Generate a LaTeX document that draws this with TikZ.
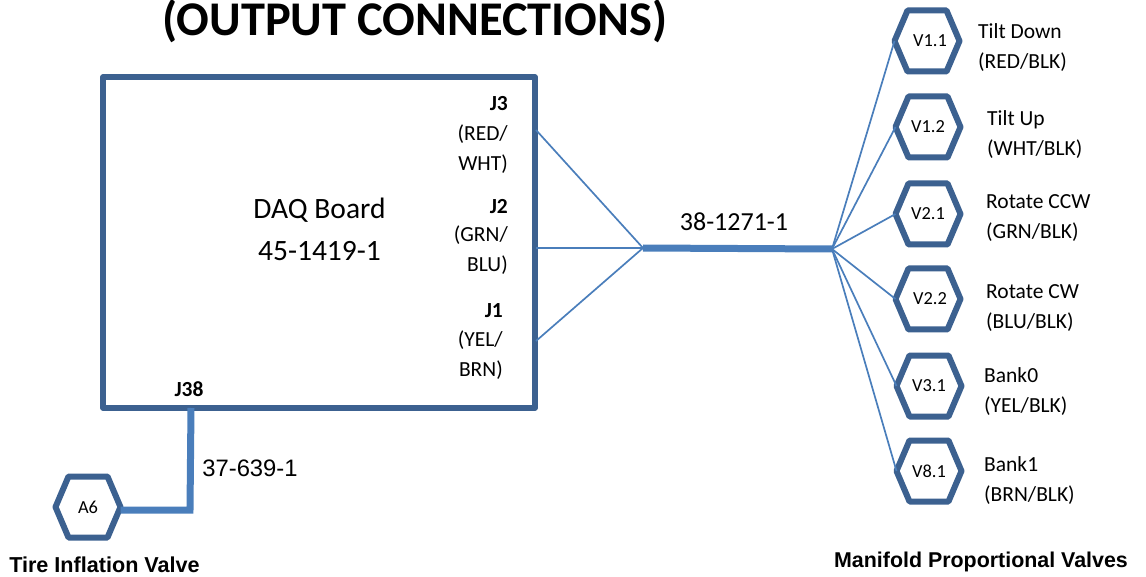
\documentclass[tikz,border=0pt]{standalone}
\usepackage{fontspec}
\setmainfont{Carlito}
\newfontfamily\arialf{Liberation Sans}
\definecolor{dkblue}{HTML}{3C6190}
\definecolor{wireblue}{HTML}{4A7EBB}
\tikzset{
  hexbox/.style={minimum width=65pt,minimum height=61pt,inner sep=0pt,outer sep=0pt,font=\fontsize{18.4}{20}\selectfont},
  hexline/.style={draw=dkblue,line width=6pt,line join=round},
  thinwire/.style={draw=wireblue,line width=1.7pt},
  fatwire/.style={draw=wireblue,line width=7pt},
  lab/.style={inner sep=0pt,align=left,font=\fontsize{21.5}{30}\selectfont},
  conn/.style={inner sep=0pt,align=right,font=\fontsize{21.5}{30}\selectfont},
  jbold/.style={inner sep=0pt,font=\bfseries\fontsize{21.5}{24}\selectfont},
  big/.style={inner sep=0pt,align=center},
}
\newcommand\hexv[4]{%
  \node[hexbox] (#1) at (#2) {\kern#3pt #4};
  \draw[hexline] (#1.west) -- ([xshift=13pt]#1.north west) -- ([xshift=-13pt]#1.north east) -- (#1.east) -- ([xshift=-13pt]#1.south east) -- ([xshift=13pt]#1.south west) -- cycle;
}
\begin{document}
\begin{tikzpicture}[x=1pt,y=-1pt]
\useasboundingbox (0,0) rectangle (1146,577);
\node[big,font=\bfseries\fontsize{48.4}{50}\selectfont] (title) at (415,21) {(OUTPUT CONNECTIONS)};
\node[draw=dkblue,line width=5.5pt,line join=round,minimum width=432pt,minimum height=331pt,inner sep=0pt,outer sep=0pt,anchor=north west] (daq) at (103,77) {};
\node[big,font=\fontsize{29.5}{42}\selectfont] (daqtext) at (319.5,229) {DAQ Board\\45-1419-1};
\node[jbold,anchor=east] (j3) at (508,104) {J3};
\node[conn,anchor=east] (j3w) at (508,149.5) {(RED/\\WHT)};
\node[jbold,anchor=east] (j2) at (508,206.5) {J2};
\node[conn,anchor=east] (j2w) at (508,250.5) {(GRN/\\BLU)};
\node[jbold,anchor=east] (j1) at (503,311) {J1};
\node[conn,anchor=east] (j1w) at (503,355.5) {(YEL/\\BRN)};
\node[jbold] (j38) at (189,389) {J38};
\coordinate (hubl) at (643,248);
\coordinate (hubr) at (832,249);
\coordinate (p3) at (536,130);
\coordinate (p2) at (536,248);
\coordinate (p1) at (536,341);
\hexv{v11}{927,41}{6}{V1.1}
\hexv{v12}{928,127}{0}{V1.2}
\hexv{v21}{928,214}{0}{V2.1}
\hexv{v22}{928,299}{4}{V2.2}
\hexv{v31}{929,386}{0}{V3.1}
\hexv{v81}{929,471}{0}{V8.1}
\hexv{a6}{88,507}{0}{A6}
\draw[thinwire] (p3) -- (hubl);
\draw[thinwire] (p2) -- (hubl);
\draw[thinwire] (p1) -- (hubl);
\draw[fatwire] (hubl) -- (hubr);
\foreach \v in {v11,v12,v21,v22,v31,v81} \draw[thinwire] (hubr) -- (\v.west);
\coordinate (j38b) at (191,408);
\coordinate (j38c) at (190,510);
\draw[fatwire] (j38b) -- (j38c) -- ([yshift=-3pt]a6.east);
\node[inner sep=0pt,font=\fontsize{26}{28}\selectfont] (c1) at (734,222) {38-1271-1};
\node[inner sep=0pt,font=\arialf\fontsize{23.8}{26}\selectfont] (c2) at (250,468) {37-639-1};
\node[lab,anchor=west] (t1) at (978,48) {Tilt Down\\(RED/BLK)};
\node[lab,anchor=west] (t2) at (987,135) {Tilt Up\\(WHT/BLK)};
\node[lab,anchor=west] (t3) at (986,218) {Rotate CCW\\(GRN/BLK)};
\node[lab,anchor=west] (t4) at (986,308) {Rotate CW\\(BLU/BLK)};
\node[lab,anchor=west] (t5) at (984,391.5) {Bank0\\(YEL/BLK)};
\node[lab,anchor=west] (t6) at (984,481) {Bank1\\(BRN/BLK)};
\node[inner sep=0pt,font=\arialf\bfseries\fontsize{21.6}{24}\selectfont] (cap1) at (104.5,565) {Tire Inflation Valve};
\node[inner sep=0pt,font=\arialf\bfseries\fontsize{21.4}{24}\selectfont] (cap2) at (981,562) {Manifold Proportional Valves};
\end{tikzpicture}
\end{document}
